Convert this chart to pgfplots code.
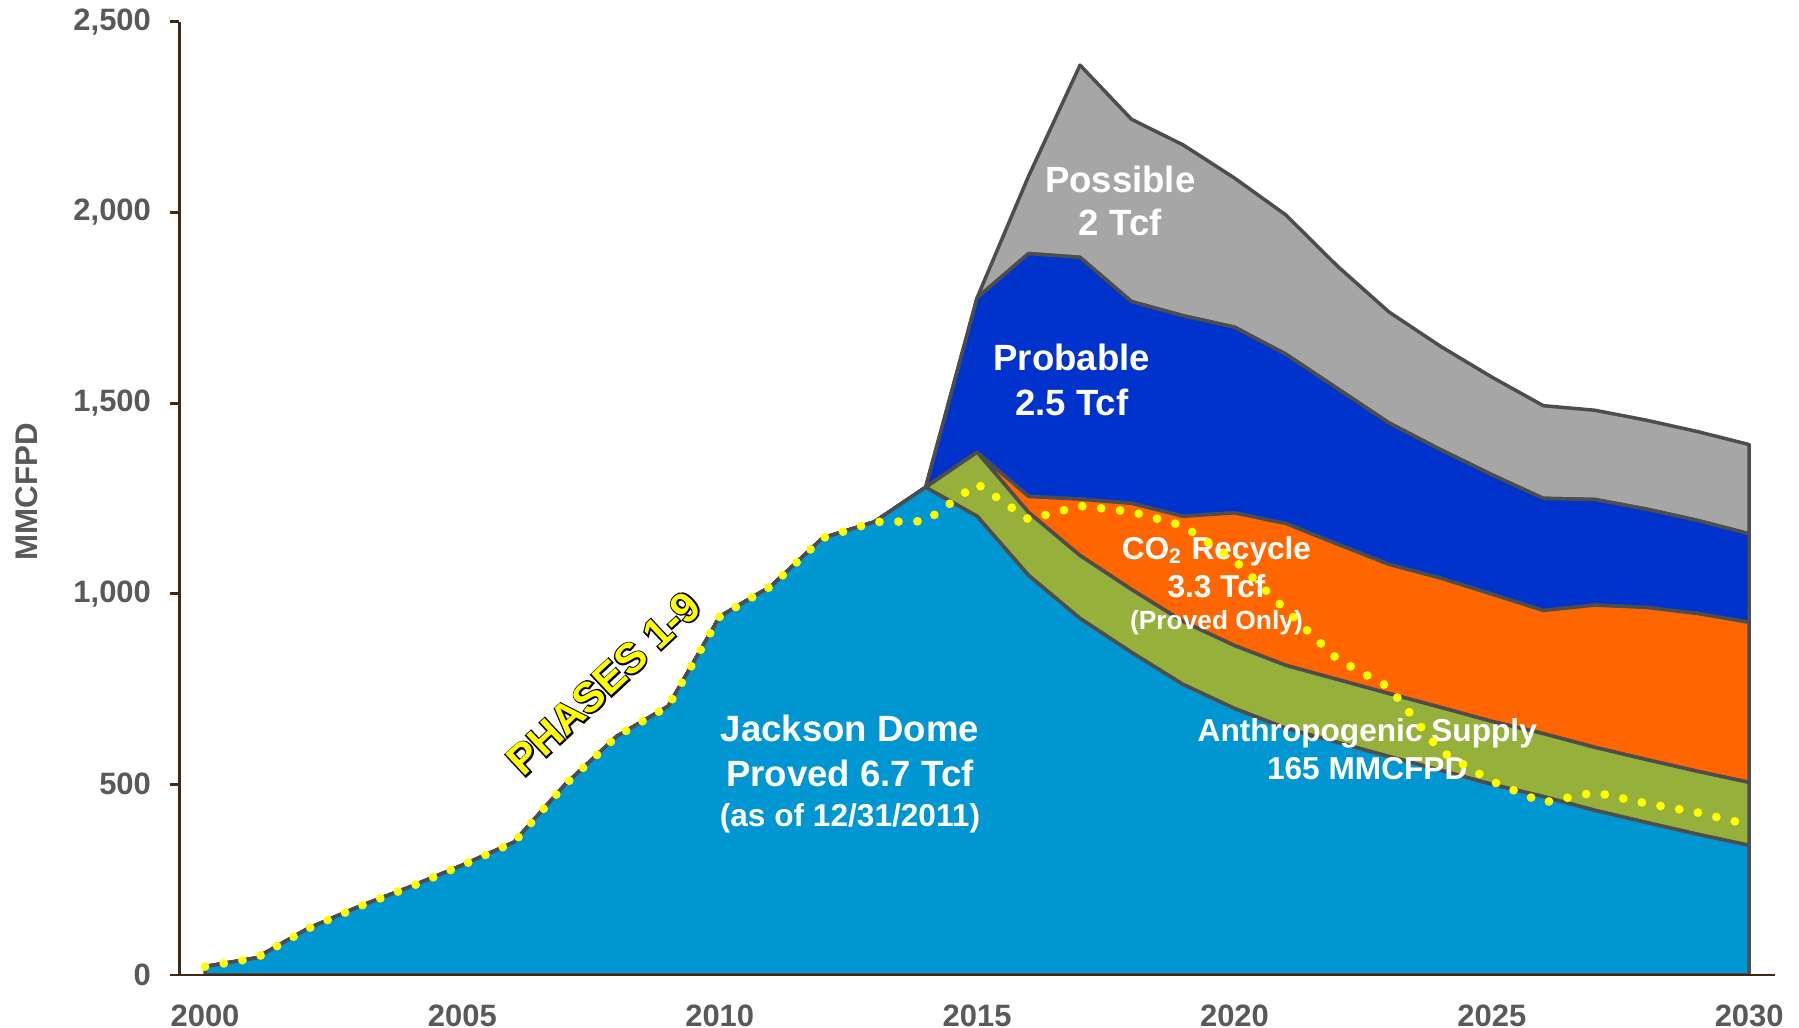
\documentclass[border=0pt]{standalone}
\usepackage{fontspec}
\setmainfont{Liberation Sans}
\newfontfamily\phaseoutline[FakeBold=7]{Liberation Sans Bold}
\usepackage{pgfplots}
\usepackage{pgfplotstable}
\pgfplotsset{compat=1.18}

\definecolor{jdblue}{RGB}{0,150,210}
\definecolor{anthgreen}{RGB}{150,176,60}
\definecolor{co2orange}{RGB}{255,102,0}
\definecolor{probblue}{RGB}{0,51,204}
\definecolor{possgray}{RGB}{166,166,166}
\definecolor{edgegray}{RGB}{77,77,77}
\definecolor{axisbrown}{RGB}{64,40,20}
\definecolor{ticktext}{RGB}{89,89,89}
\definecolor{phaseyellow}{RGB}{255,255,0}

% CO2 supply by source, MMCFPD (stacked)
\pgfplotstableread{
year jd   anth co2 prob poss
2000 22   0    0   0    0
2001 45   0    0   0    0
2002 122  0    0   0    0
2003 180  0    0   0    0
2004 232  0    0   0    0
2005 288  0    0   0    0
2006 348  0    0   0    0
2007 500  0    0   0    0
2008 626  0    0   0    0
2009 705  0    0   0    0
2010 940  0    0   0    0
2011 1020 0    0   0    0
2012 1146 0    0   0    0
2013 1188 0    0   0    0
2014 1279 0    0   0    0
2015 1203 168  0   405  0
2016 1048 165  42  637  203
2017 935  165  148 634  504
2018 846  165  226 529  478
2019 762  165  276 526  448
2020 699  165  348 487  391
2021 647  165  372 444  365
2022 610  165  355 408  321
2023 573  165  339 371  291
2024 537  165  339 337  271
2025 500  165  334 313  256
2026 468  165  323 294  243
2027 432  165  373 277  234
2028 400  165  399 258  233
2029 369  165  414 244  233
2030 340  165  420 232  234
}\supply

% Phases 1-9 delivery
\pgfplotstableread{
year phases
2000 22
2001 45
2002 122
2003 180
2004 232
2005 288
2006 348
2007 500
2008 626
2009 705
2010 940
2011 1020
2012 1146
2013 1188
2014 1190
2015 1288
2016 1195
2017 1230
2018 1215
2019 1178
2020 1088
2021 957
2022 828
2023 755
2024 588
2025 508
2026 452
2027 479
2028 450
2029 426
2030 394
}\phases

\newcommand{\lbl}[2]{\fontsize{#1}{#2}\selectfont\bfseries}

\begin{document}
\begin{tikzpicture}
\useasboundingbox (-1.793cm,-0.53cm) rectangle (16.197cm,9.75cm);
\pgfplotsset{base/.style={scale only axis, width=15.956cm, height=9.533cm,
  xmin=1999.5, xmax=2030.5, ymin=0, ymax=2500}}

\begin{axis}[base, stack plots=y, axis on top,
  axis x line*=bottom, axis y line*=left,
  axis line style={draw=axisbrown, line width=0.85pt, -},
  xtick={2000,2005,...,2030},
  xticklabels={2000,2005,2010,2015,2020,2025,2030},
  ytick={0,500,...,2500},
  /pgf/number format/1000 sep={,},
  /pgf/number format/assume math mode=true,
  tick align=outside, major tick length=0.09cm,
  xtick style={draw=none},
  ytick style={draw=axisbrown, line width=0.85pt},
  ticklabel style={font=\lbl{8.8}{10}, text=ticktext},
  yticklabel style={xshift=-0.07cm},
  xticklabel style={yshift=-0.08cm},
  every axis plot/.append style={draw=edgegray, line width=1pt, line join=round},
]
\addplot[fill=jdblue]    table[x=year, y=jd]   {\supply} \closedcycle;
\addplot[fill=anthgreen] table[x=year, y=anth] {\supply} \closedcycle;
\addplot[fill=co2orange] table[x=year, y=co2]  {\supply} \closedcycle;
\addplot[fill=probblue]  table[x=year, y=prob] {\supply} \closedcycle;
\addplot[fill=possgray]  table[x=year, y=poss] {\supply} \closedcycle;
\end{axis}

\begin{axis}[base, hide axis, clip=false]
\node[align=center, text=white, font=\lbl{10.4}{12.5}] at (axis cs:2017.78,2030) {Possible\\2 Tcf};
\node[align=center, text=white, font=\lbl{10.4}{12.7}] at (axis cs:2016.84,1561) {Probable\\2.5 Tcf};
\node[align=center, text=white, font=\lbl{10.4}{12.8}] at (axis cs:2012.53,527)
  {Jackson Dome\\Proved 6.7 Tcf\\[-1.4pt]{\lbl{9}{11}(as of 12/31/2011)}};
\node[align=center, text=white, font=\lbl{9}{10.6}] at (axis cs:2019.65,1020)
  {CO\textsubscript{2} Recycle\\3.3 Tcf\\[-1.3pt]{\lbl{7.5}{9}(Proved Only)}};
\node[align=center, text=white, font=\lbl{9}{10.9}] at (axis cs:2022.58,593)
  {Anthropogenic Supply\\165 MMCFPD};
\node[rotate=90, text=ticktext, font=\lbl{8.9}{10}] at (axis cs:1996.54,1267) {MMCFPD};
\addplot[phaseyellow, line width=2.5pt, line cap=round, dash pattern=on 0pt off 5.4pt]
  table[x=year, y=phases] {\phases};
\coordinate (ph) at (axis cs:2007.75,765);
\end{axis}

% outlined "PHASES 1-9" caption: emboldened black copy under the yellow text
\node[rotate=43, text=black, font=\fontsize{12}{14}\phaseoutline] at (ph) {PHASES 1-9};
\node[rotate=43, text=phaseyellow, font=\lbl{12}{14}] at (ph) {PHASES 1-9};
\end{tikzpicture}
\end{document}
